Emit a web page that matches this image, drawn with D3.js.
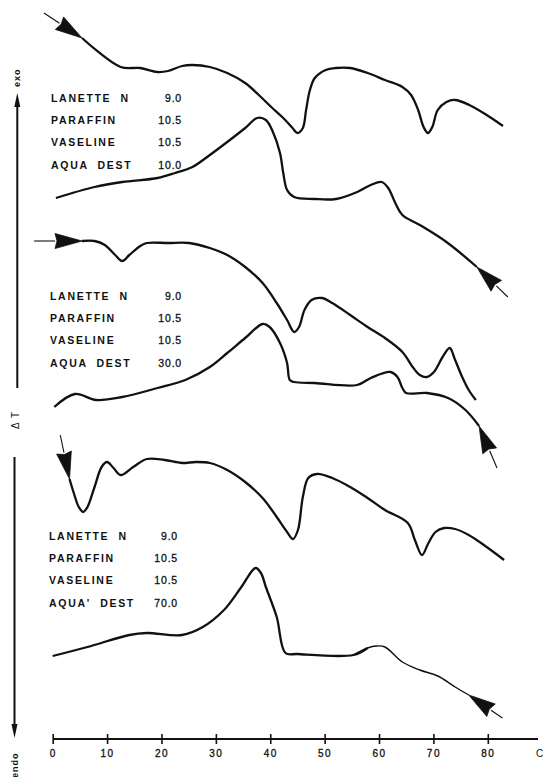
<!DOCTYPE html>
<html>
<head>
<meta charset="utf-8">
<script src="https://cdn.jsdelivr.net/npm/d3@7"></script>
<style>
  body { margin: 0; background: #fff; }
  text { font-family: "Liberation Sans", Arial, sans-serif; fill: #111; }
</style>
</head>
<body>
<div id="chart"></div>
<script>
// temperature axis (deg C)
var tempTicks = [0, 10, 20, 30, 40, 50, 60, 70, 80];

// composition of the three samples
var setLabels = [
  ["LANETTE  N", "PARAFFIN", "VASELINE", "AQUA  DEST"],
  ["LANETTE  N", "PARAFFIN", "VASELINE", "AQUA  DEST"],
  ["LANETTE  N", "PARAFFIN", "VASELINE", "AQUA'  DEST"]
];
var setAmounts = [
  ["9.0", "10.5", "10.5", "10.0"],
  ["9.0", "10.5", "10.5", "30.0"],
  ["9.0", "10.5", "10.5", "70.0"]
];

// DTA traces: [temperature, deltaT (arbitrary units, chart height)]
var heat10 = [[5.3,701],[12.4,672],[16.0,671],[19.2,667],[21.1,668],[23.7,673],[25.6,674],[28.8,672],
  [32.0,666],[35.3,656],[37.8,644],[40.1,632],[42.3,621],[44.0,611],[44.9,606],[45.9,611],[46.5,629],
  [47.2,649],[48.1,661],[50.1,669],[52.0,671],[54.6,671],[57.8,666],[61.0,659],[64.2,652],[65.8,644],
  [67.1,629],[68.1,612],[68.9,606],[69.7,612],[70.7,629],[72.3,637],[73.9,639],[76.5,634],[79.7,624],[82.7,613]];
var cool10 = [[0.5,541],[7.6,552],[12.7,557],[19.2,561],[22.4,566],[25.6,572],[28.8,584],[32.0,597],
  [35.3,611],[37.5,621],[39.1,619],[40.4,607],[41.7,586],[42.3,566],[43.0,549],[44.3,542],[48.1,540],
  [52.0,540],[55.9,547],[58.4,554],[60.4,557],[61.6,551],[62.9,536],[64.2,524],[67.4,514],[72.3,497],[77.9,472]];

var heat30 = [[5.3,498],[7.6,498],[9.5,494],[11.4,484],[12.7,478],[14.0,484],[16.0,493],[17.2,496],
  [21.1,496],[25.0,496],[28.8,491],[32.0,484],[35.3,472],[38.5,456],[41.1,436],[43.0,419],[44.3,407],
  [45.2,412],[46.2,429],[47.5,439],[49.4,441],[51.3,436],[54.6,424],[57.8,412],[61.0,401],[64.2,387],
  [66.1,372],[67.4,364],[68.7,362],[70.0,367],[71.6,382],[72.9,391],[73.9,379],[75.2,362],[76.4,349],[77.7,339]];
var cool30 = [[0.2,332],[4.0,345],[7.9,339],[12.7,342],[19.2,351],[24.3,359],[28.8,372],[32.0,386],
  [35.3,401],[38.5,415],[39.8,412],[41.7,396],[43.0,376],[43.5,359],[44.3,357],[48.1,356],[55.9,354],
  [58.4,361],[62.0,367],[63.3,362],[64.2,351],[64.9,346],[68.7,346],[72.6,341],[75.8,329],[78.3,313]];

var heat70 = [[3.0,260],[3.9,244],[4.7,232],[5.5,227],[6.3,232],[7.6,252],[8.9,272],[9.9,277],[11.1,271],
  [12.4,264],[14.7,272],[17.2,280],[20.5,279],[23.7,276],[26.2,277],[28.8,276],[32.0,269],[35.3,257],
  [38.5,241],[41.1,222],[43.0,207],[44.1,200],[45.0,209],[45.9,242],[46.9,261],[48.5,265],[51.3,261],
  [54.6,252],[57.8,241],[61.0,229],[65.2,216],[66.5,199],[67.8,184],[69.0,196],[70.3,207],[71.9,211],
  [73.9,210],[76.4,204],[79.7,192],[82.9,179]];
var cool70 = [[-0.1,83],[6.3,92],[14.0,104],[17.2,106],[23.7,104],[27.5,112],[31.4,129],[34.6,152],
  [37.2,171],[38.2,166],[39.1,152],[41.1,122],[42.7,86],[44.9,85],[55.2,84],[57.8,91],[59.4,93],
  [61.0,92],[64.2,77],[67.4,69],[70.7,63],[73.9,52],[76.4,44]];

// direction arrows: [tailT, tailV, tipT, tipV]
var arrows = [
  [-1.7, 726, 5.3, 701],
  [83.6, 442, 77.9, 472],
  [-3.5, 498, 5.3, 498],
  [81.6, 271, 78.3, 313],
  [1.3, 304, 3.0, 260],
  [82.6, 21, 76.4, 44]
];

var width = 549, height = 777;

var svg = d3.select("#chart").append("svg")
  .attr("width", width)
  .attr("height", height);

var x = d3.scaleLinear().domain([0, 80]).range([53.2, 488.3]);
var y = d3.scaleLinear().domain([0, 739]).range([739, 0]);

var line = d3.line()
  .x(function(d) { return x(d[0]); })
  .y(function(d) { return y(d[1]); })
  .curve(d3.curveCatmullRom.alpha(0.5));

var traces = [heat10, cool10, heat30, cool30, heat70, cool70.filter(function(d) { return d[0] <= 57.8; })];
svg.append("g").selectAll("path")
  .data(traces)
  .enter().append("path")
  .attr("d", line)
  .attr("fill", "none")
  .attr("stroke", "#111")
  .attr("stroke-width", 2.3)
  .attr("stroke-linejoin", "round");

// last part of the bottom cooling trace is drawn thinner
svg.append("path")
  .attr("d", line(cool70.filter(function(d) { return d[0] >= 55.2; })))
  .attr("fill", "none")
  .attr("stroke", "#111")
  .attr("stroke-width", 1.4);

// arrows
var ag = svg.append("g");
arrows.forEach(function(a) {
  var x0 = x(a[0]), y0 = y(a[1]), x1 = x(a[2]), y1 = y(a[3]);
  var dx = x1 - x0, dy = y1 - y0, len = Math.sqrt(dx * dx + dy * dy);
  var ux = dx / len, uy = dy / len;
  var L = 27, W = 7.5;
  var bx = x1 - ux * L, by = y1 - uy * L;
  ag.append("line")
    .attr("x1", x0).attr("y1", y0).attr("x2", bx).attr("y2", by)
    .attr("stroke", "#111").attr("stroke-width", 1.1);
  ag.append("path")
    .attr("d", "M" + x1 + "," + y1 +
      "L" + (bx - uy * W) + "," + (by + ux * W) +
      "L" + (bx + ux * 2) + "," + (by + uy * 2) +
      "L" + (bx + uy * W) + "," + (by - ux * W) + "Z")
    .attr("fill", "#111")
    .attr("stroke", "#111")
    .attr("stroke-width", 0.8)
    .attr("stroke-linejoin", "round");
});

// composition tables
var blocks = [{x: 51, xr: 182, y: 102}, {x: 50, xr: 182, y: 300}, {x: 49, xr: 178, y: 540}];
blocks.forEach(function(b, i) {
  var g = svg.append("g");
  g.selectAll("text.name")
    .data(setLabels[i])
    .enter().append("text")
    .attr("class", "name")
    .attr("x", b.x)
    .attr("y", function(d, j) { return b.y + j * 22.2; })
    .style("white-space", "pre")
    .style("font-size", "10.5px")
    .style("font-weight", "bold")
    .style("letter-spacing", "1.7px")
    .text(function(d) { return d; });
  g.selectAll("text.amt")
    .data(setAmounts[i])
    .enter().append("text")
    .attr("class", "amt")
    .attr("x", b.xr)
    .attr("y", function(d, j) { return b.y + j * 22.2; })
    .attr("text-anchor", "end")
    .style("font-size", "10.5px")
    .style("letter-spacing", "0.8px")
    .style("stroke", "#111")
    .style("stroke-width", 0.3)
    .text(function(d) { return d; });
});

// temperature axis
var axisY = 739;
svg.append("line")
  .attr("x1", x(0)).attr("x2", 538)
  .attr("y1", axisY).attr("y2", axisY)
  .attr("stroke", "#111").attr("stroke-width", 2.2);
svg.append("g").selectAll("line")
  .data(tempTicks)
  .enter().append("line")
  .attr("x1", function(d) { return x(d); })
  .attr("x2", function(d) { return x(d); })
  .attr("y1", axisY - 5).attr("y2", axisY + 5)
  .attr("stroke", "#111").attr("stroke-width", 1.6);
svg.append("g").selectAll("text")
  .data(tempTicks)
  .enter().append("text")
  .attr("x", function(d) { return x(d); })
  .attr("y", 757)
  .attr("text-anchor", "middle")
  .style("font-size", "10px")
  .style("letter-spacing", "1.5px")
  .style("stroke", "#111")
  .style("stroke-width", 0.3)
  .text(function(d) { return d; });
svg.append("text")
  .attr("x", 536).attr("y", 757)
  .style("font-size", "10px")
  .text("C");

// delta T axis (exo up, endo down)
svg.append("line")
  .attr("x1", 17.3).attr("x2", 17.3).attr("y1", 388).attr("y2", 104)
  .attr("stroke", "#111").attr("stroke-width", 2);
svg.append("path")
  .attr("d", "M17.3,93L20.3,107L14.3,107Z").attr("fill", "#111");
svg.append("line")
  .attr("x1", 14.5).attr("x2", 14.5).attr("y1", 457).attr("y2", 727)
  .attr("stroke", "#111").attr("stroke-width", 2);
svg.append("path")
  .attr("d", "M14.5,738L17.5,724L11.5,724Z").attr("fill", "#111");

svg.append("text")
  .attr("transform", "translate(20,87) rotate(-90)")
  .style("font-size", "9px").style("font-weight", "bold")
  .style("letter-spacing", "1px")
  .text("exo");
svg.append("text")
  .attr("transform", "translate(18,778) rotate(-90)")
  .style("font-size", "9px").style("font-weight", "bold")
  .style("letter-spacing", "1px")
  .text("endo");
svg.append("text")
  .attr("transform", "translate(19,420) rotate(-90)")
  .attr("text-anchor", "middle")
  .style("white-space", "pre")
  .style("font-size", "10px")
  .style("letter-spacing", "1px")
  .text("\u0394 T");
</script>
</body>
</html>
